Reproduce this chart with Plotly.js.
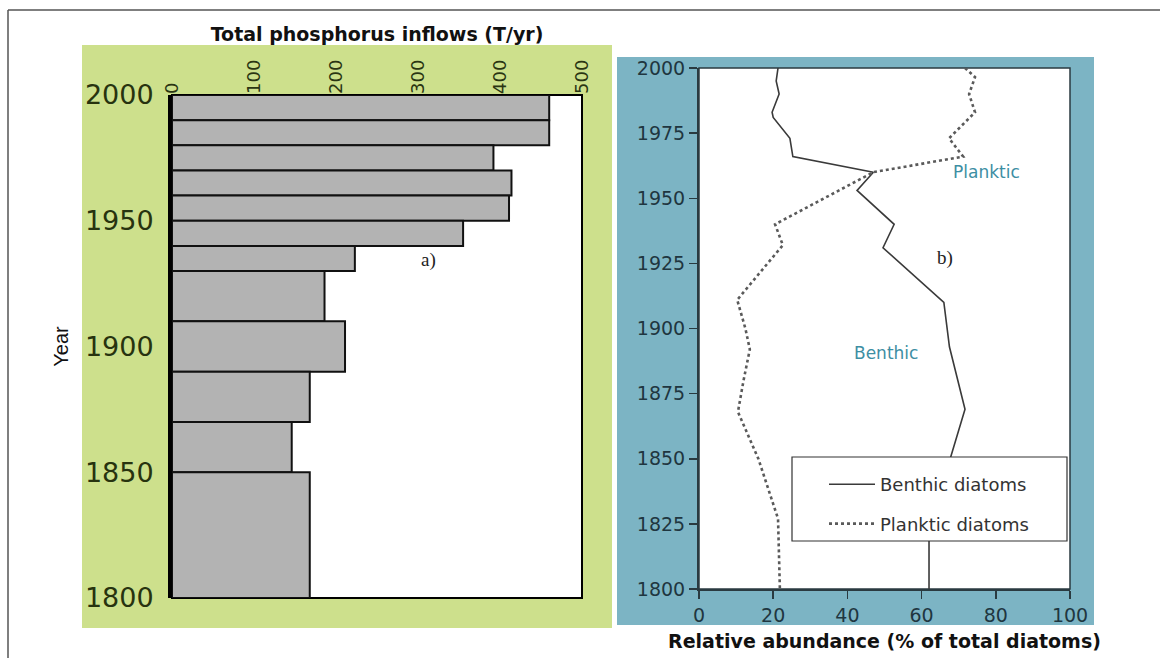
<!DOCTYPE html>
<html>
<head>
<meta charset="utf-8">
<script src="https://cdn.plot.ly/plotly-3.0.1.min.js"></script>
<style>html,body{margin:0;padding:0;background:#fff;}#chart{width:1168px;height:658px;}</style>
</head>
<body>
<div id="chart"></div>
<script>
// ---- Data: panel a) total phosphorus inflows ----
const periodStart = [1990, 1980, 1970, 1960, 1950, 1940, 1930, 1910, 1890, 1870, 1850, 1800];
const periodEnd   = [2000, 1990, 1980, 1970, 1960, 1950, 1940, 1930, 1910, 1890, 1870, 1850];
const phosphorusInflow = [460, 460, 392, 414, 411, 355, 223, 186, 211, 168, 146, 168];
const phosphorusTicks = [0, 100, 200, 300, 400, 500];
const yearTicksA = [1800, 1850, 1900, 1950, 2000];

// ---- Data: panel b) relative abundance of diatoms ----
const benthicYears = [2000, 1995, 1990, 1983, 1981, 1973, 1966, 1960, 1953, 1940, 1931, 1910, 1893, 1869, 1850, 1820, 1800];
const benthicPct   = [21.3, 20.8, 21.6, 19.7, 20.0, 24.5, 25.3, 47.0, 42.6, 52.6, 49.6, 66.0, 67.5, 71.7, 67.7, 62.0, 62.0];
const plankticYears = [2000, 1996.5, 1990, 1983, 1973, 1966, 1960, 1940, 1932, 1911, 1900, 1892, 1880, 1868, 1850, 1827, 1800];
const plankticPct   = [71.7, 74.4, 72.8, 74.4, 67.4, 71.2, 47.0, 20.5, 22.6, 10.3, 12.5, 13.7, 12.0, 10.5, 16.0, 21.3, 21.8];
const abundanceTicks = [0, 20, 40, 60, 80, 100];
const yearTicksB = [1800, 1825, 1850, 1875, 1900, 1925, 1950, 1975, 2000];

// ---- helpers (pixel -> paper) ----
const W = 1168, H = 658;
const fx = p => p / W;
const fy = p => 1 - p / H;

const periodMid = periodStart.map((s, i) => (s + periodEnd[i]) / 2);
const periodLen = periodStart.map((s, i) => periodEnd[i] - s);

const traces = [
  {
    type: 'bar', orientation: 'h',
    x: phosphorusInflow, y: periodMid, width: periodLen,
    xaxis: 'x', yaxis: 'y',
    marker: {color: '#b3b3b3', line: {color: '#111', width: 2}},
    showlegend: false, hoverinfo: 'x+y'
  },
  {
    type: 'scatter', mode: 'lines', name: 'Benthic diatoms',
    x: benthicPct, y: benthicYears, xaxis: 'x2', yaxis: 'y2',
    line: {color: '#3a3a3a', width: 1.6},
    legendgroup: 'b'
  },
  {
    type: 'scatter', mode: 'lines', name: 'Planktic diatoms',
    x: plankticPct, y: plankticYears, xaxis: 'x2', yaxis: 'y2',
    line: {color: '#5a5a5a', width: 2.6, dash: 'dot'},
    legendgroup: 'p'
  }
];

const tickFontA = {family: 'DejaVu Sans', size: 18, color: '#2a3512'};
const tickFontB = {family: 'DejaVu Sans', size: 19, color: '#1f3640'};

const layout = {
  width: W, height: H,
  margin: {l: 0, r: 0, t: 0, b: 0},
  paper_bgcolor: '#ffffff',
  plot_bgcolor: 'rgba(0,0,0,0)',
  font: {family: 'Liberation Sans, Arial, sans-serif'},
  xaxis: {
    domain: [fx(172), fx(582)], range: [0, 500], anchor: 'y', side: 'top',
    tickvals: phosphorusTicks, tickangle: -90, ticks: '',
    tickfont: tickFontA, showgrid: false, zeroline: false, showline: false,
    title: {text: '<b>Total phosphorus inflows (T/yr)</b>', font: {family: 'DejaVu Sans', size: 19, color: '#111'}, standoff: 12},
    fixedrange: true
  },
  yaxis: {
    domain: [fy(598), fy(95)], range: [1800, 2000], anchor: 'x',
    tickvals: yearTicksA, ticks: '', ticklabelstandoff: 9,
    tickfont: {family: 'DejaVu Sans', size: 27, color: '#27330f'},
    showgrid: false, zeroline: false, showline: true, linewidth: 4, linecolor: '#000',
    title: {text: 'Year', font: {family: 'Liberation Sans', size: 20, color: '#111'}, standoff: 12},
    fixedrange: true
  },
  xaxis2: {
    domain: [fx(699), fx(1070)], range: [0, 100], anchor: 'y2',
    tickvals: abundanceTicks, ticks: 'outside', ticklen: 8, tickwidth: 1.5, tickcolor: '#2a3a40',
    tickfont: tickFontB, showgrid: false, zeroline: false,
    showline: true, linewidth: 2, linecolor: '#2a3a40',
    title: {text: '<b>Relative abundance (% of total diatoms)</b>', font: {family: 'DejaVu Sans', size: 19, color: '#111'}, standoff: 10},
    fixedrange: true
  },
  yaxis2: {
    domain: [fy(589), fy(68)], range: [1800, 2000], anchor: 'x2',
    tickvals: yearTicksB, ticks: 'outside', ticklen: 8, tickwidth: 1.5, tickcolor: '#2a3a40',
    tickfont: tickFontB, showgrid: false, zeroline: false,
    showline: true, linewidth: 2, linecolor: '#2a3a40',
    fixedrange: true
  },
  showlegend: true,
  legend: {
    x: fx(824), y: fy(466), xanchor: 'left', yanchor: 'top',
    bgcolor: 'rgba(0,0,0,0)', borderwidth: 0,
    font: {family: 'DejaVu Sans', size: 18, color: '#333'},
    traceorder: 'grouped', tracegroupgap: 13, itemwidth: 46
  },
  shapes: [
    // outer frame
    {type: 'line', xref: 'paper', yref: 'paper', x0: fx(8), x1: fx(1160), y0: fy(10), y1: fy(10), line: {color: '#555', width: 1.5}, layer: 'below'},
    {type: 'line', xref: 'paper', yref: 'paper', x0: fx(8), x1: fx(8), y0: fy(10), y1: fy(658), line: {color: '#555', width: 1.5}, layer: 'below'},
    // panel backgrounds
    {type: 'rect', xref: 'paper', yref: 'paper', x0: fx(82), x1: fx(612), y0: fy(45), y1: fy(628), fillcolor: '#cde08c', line: {width: 0}, layer: 'below'},
    {type: 'rect', xref: 'paper', yref: 'paper', x0: fx(617), x1: fx(1094), y0: fy(57), y1: fy(625), fillcolor: '#7cb4c4', line: {width: 0}, layer: 'below'},
    // plot areas
    {type: 'rect', xref: 'paper', yref: 'paper', x0: fx(172), x1: fx(582), y0: fy(95), y1: fy(598), fillcolor: '#ffffff', line: {color: '#000', width: 2}, layer: 'below'},
    {type: 'rect', xref: 'paper', yref: 'paper', x0: fx(699), x1: fx(1070), y0: fy(68), y1: fy(589), fillcolor: '#ffffff', line: {color: '#2a3a40', width: 1.5}, layer: 'below'},
    // legend box (opaque, above the lines)
    {type: 'rect', xref: 'paper', yref: 'paper', x0: fx(792), x1: fx(1067), y0: fy(457), y1: fy(541), fillcolor: '#ffffff', line: {color: '#333', width: 1.2}, layer: 'above'}
  ],
  annotations: [
    {text: 'a)', xref: 'paper', yref: 'paper', x: fx(428), y: fy(260), xanchor: 'center', yanchor: 'middle', showarrow: false, font: {family: 'Liberation Serif', size: 19, color: '#222'}},
    {text: 'b)', xref: 'paper', yref: 'paper', x: fx(945), y: fy(258), xanchor: 'center', yanchor: 'middle', showarrow: false, font: {family: 'Liberation Serif', size: 19, color: '#222'}},
    {text: 'Planktic', xref: 'paper', yref: 'paper', x: fx(986), y: fy(172), xanchor: 'center', yanchor: 'middle', showarrow: false, font: {family: 'DejaVu Sans', size: 17, color: '#3d8ea3'}},
    {text: 'Benthic', xref: 'paper', yref: 'paper', x: fx(886), y: fy(353), xanchor: 'center', yanchor: 'middle', showarrow: false, font: {family: 'DejaVu Sans', size: 17, color: '#3d8ea3'}}
  ]
};

Plotly.newPlot('chart', traces, layout, {displayModeBar: false, staticPlot: true});
</script>
</body>
</html>
